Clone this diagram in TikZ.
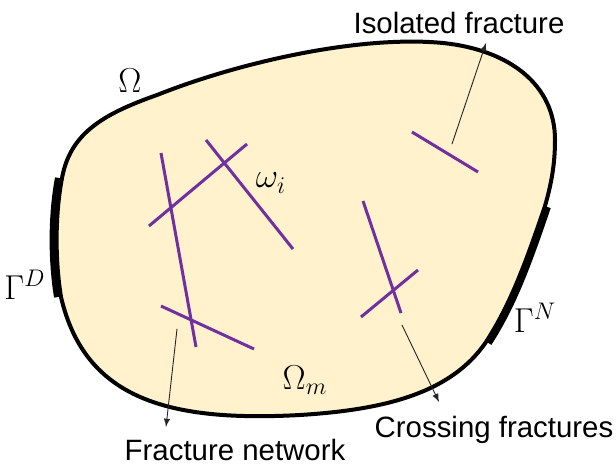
\documentclass[tikz,border=0pt]{standalone}
\usepackage{fontspec}
\setmainfont{Liberation Sans}
\definecolor{matrixfill}{HTML}{FFF2CC}
\definecolor{fracviolet}{HTML}{7030A0}
\tikzset{
  fracture/.style={draw=fracviolet,line width=1.5pt,line cap=butt},
  bndbar/.style={line width=4pt,line cap=butt},
  mathlbl/.style={font=\fontsize{18}{21}\selectfont,inner sep=0pt},
  txt/.style={font=\fontsize{14.7}{17}\selectfont,inner sep=0pt,anchor=base},
  pointer/.style={->,line width=.45pt,draw=black!85}
}
\begin{document}
\begin{tikzpicture}[x=.5pt,y=-.5pt,>=latex,line cap=round]
  \useasboundingbox (0,0) rectangle (616,466);
  % The matrix domain Omega, one closed smooth curve.
  \draw[fill=matrixfill,line width=2pt] (61,297) .. controls (55,260) and (55,215) .. (62,178)
    .. controls (70,135) and (100,115) .. (157,95)
    .. controls (240,62) and (360,35) .. (443,43)
    .. controls (510,50) and (555,85) .. (555,140)
    .. controls (555,165) and (551,185) .. (545,206)
    .. controls (525,265) and (510,305) .. (486,342)
    .. controls (450,395) and (380,410) .. (300,415)
    .. controls (170,422) and (85,400) .. cycle;
  % Dirichlet and Neumann parts of the boundary.
  \draw[bndbar,xshift=-1.5pt] (61,297) .. controls (55,260) and (55,215) .. (62,178);
  \draw[bndbar,line width=3.5pt,xshift=1.2pt,yshift=-.5pt] (545,206)
    .. controls (525,265) and (510,305) .. (486,342);
  % Fractures.
  \foreach \xa/\ya/\xb/\yb in {161/153/196/347,149/226/247/144,206/140/293/249,
      161/306/254/349,412/132/478/172,363/201/401/313,361/317/418/270} {
    \draw[fracture] (\xa,\ya) -- (\xb,\yb);
  }
  \node[mathlbl] (omega) at (130,81) {$\Omega$};
  \node[mathlbl] (wi) at (271,183) {$\omega_i$};
  \node[mathlbl] (gammaD) at (25,285) {$\Gamma^D$};
  \node[mathlbl] (gammaN) at (535,318) {$\Gamma^N$};
  \node[mathlbl] (omegam) at (305,380) {$\Omega_m$};
  \node[txt] (iso) at (459,33) {Isolated fracture};
  \node[txt] (cross) at (494,437) {Crossing fractures};
  \node[txt] (net) at (235,460) {Fracture network};
  % Pointers from the fractures to their captions.
  \coordinate (isoFoot) at (452,144);
  \coordinate (isoTip) at (486,43);
  \coordinate (netFoot) at (177,329);
  \coordinate (netTip) at (166,427);
  \coordinate (crossFoot) at (402,325);
  \coordinate (crossTip) at (439,402);
  \draw[pointer] (isoFoot) -- (isoTip);
  \draw[pointer] (netFoot) -- (netTip);
  \draw[pointer] (crossFoot) -- (crossTip);
\end{tikzpicture}
\end{document}
